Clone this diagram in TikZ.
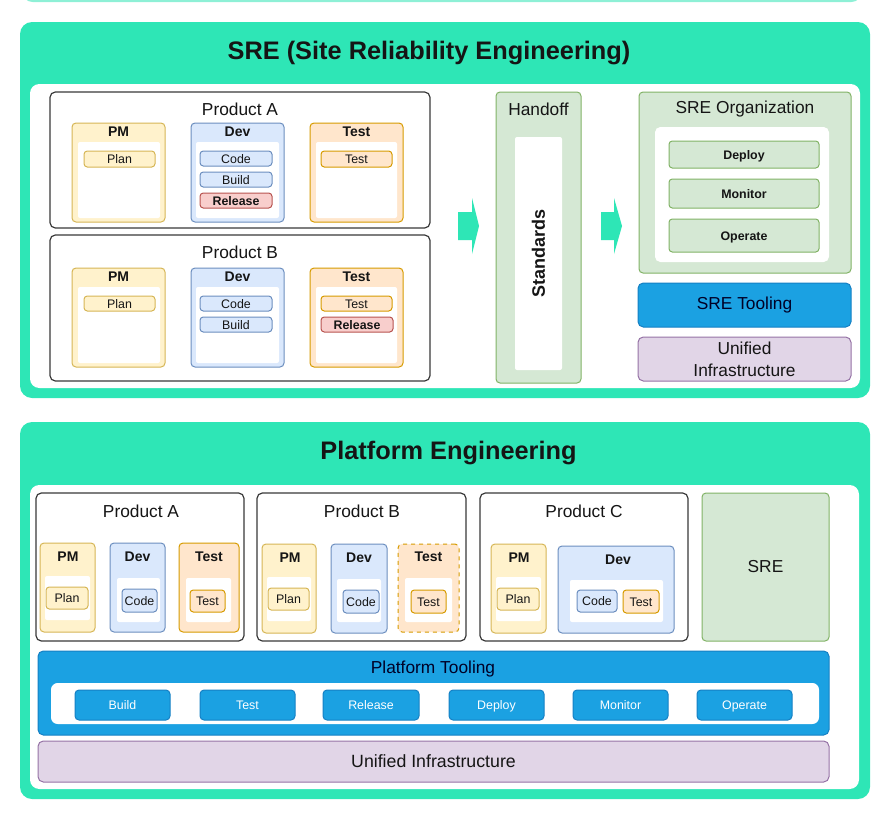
\documentclass[tikz,border=0pt]{standalone}
\usepackage{fontspec}
\setmainfont{Liberation Sans}
\definecolor{teal0}{HTML}{2EE6B6}
\definecolor{tealL}{HTML}{8EF0D6}
\definecolor{ybg}{HTML}{FFF2CC}\definecolor{ybd}{HTML}{D6B656}
\definecolor{bbg}{HTML}{DAE8FC}\definecolor{bbd}{HTML}{6C8EBF}
\definecolor{obg}{HTML}{FFE6CC}\definecolor{obd}{HTML}{D79B00}
\definecolor{rbg}{HTML}{F8CECC}\definecolor{rbd}{HTML}{B85450}
\definecolor{gbg}{HTML}{D5E8D4}\definecolor{gbd}{HTML}{82B366}
\definecolor{pbg}{HTML}{E1D5E7}\definecolor{pbd}{HTML}{9673A6}
\definecolor{blu}{HTML}{1BA1E2}\definecolor{blubd}{HTML}{1580C4}
\definecolor{prodbd}{HTML}{3A3A3A}
\definecolor{ink}{HTML}{151515}
\newcommand\fsz[2]{\fontsize{#1pt}{#2pt}\selectfont}
\newcommand\bx[7]{\node[#1,minimum width={(#5-#3)*0.75pt},minimum height={(#6-#4)*0.75pt}] (#2) at ({(#3+#5)/2},{(#4+#6)/2}) {#7};}
\tikzset{
  base/.style={inner sep=0pt, outer sep=0pt, line width=0.75pt, text=ink},
  outerbox/.style={base, fill=teal0, rounded corners=9pt},
  whitebg/.style={base, fill=white, rounded corners=7pt},
  prod/.style={base, draw=prodbd, fill=white, rounded corners=4pt, line width=0.9pt},
  colY/.style={base, draw=ybd, fill=ybg, rounded corners=3pt},
  colB/.style={base, draw=bbd, fill=bbg, rounded corners=3pt},
  colO/.style={base, draw=obd, fill=obg, rounded corners=3pt},
  colG/.style={base, draw=gbd, fill=gbg, rounded corners=3pt},
  inwhite/.style={base, fill=white, rounded corners=1.5pt},
  chip/.style={base, rounded corners=2.5pt, font=\fsz{9.3}{11}, text height=0.9em, text depth=0.18em},
  chipY/.style={chip, draw=ybd, fill=ybg},
  chipB/.style={chip, draw=bbd, fill=bbg},
  chipO/.style={chip, draw=obd, fill=obg},
  chipR/.style={chip, draw=rbd, fill=rbg, font=\fsz{9.3}{11}\bfseries},
  chipG/.style={chip, draw=gbd, fill=gbg, font=\fsz{9.3}{11}\bfseries},
  btn/.style={base, draw=blubd, fill=blu, rounded corners=3pt, text=white, font=\fsz{9.3}{11}, text height=0.9em, text depth=0.18em},
  bluebar/.style={base, draw=blubd, fill=blu, rounded corners=4pt, font=\fsz{13}{16}, text=black!85!blue},
  purplebar/.style={base, draw=pbd, fill=pbg, rounded corners=4pt, font=\fsz{13}{16.5}, align=center},
  title/.style={inner sep=0pt, text=ink, font=\fsz{19}{22}\bfseries},
  plbl/.style={inner sep=0pt, text=ink, font=\fsz{13}{16}},
  hdr/.style={inner sep=0pt, text=ink, font=\fsz{10.5}{12}\bfseries},
}
\begin{document}
\begin{tikzpicture}[x=0.75pt,y=-0.75pt]
\useasboundingbox (0,0) rectangle (893,818);
\begin{scope}
\clip (0,0) rectangle (893,818);
\fill[tealL, rounded corners=8pt] (22,-30) rectangle (862,2);
\end{scope}

% ===== SRE section =====
\bx{outerbox}{sreO}{20}{22}{870}{398}{}
\node[title] (sreT) at (429,53) {SRE (Site Reliability Engineering)};
\bx{whitebg}{sreW}{30}{84}{860}{388}{}

% Product A
\bx{prod}{tA}{50}{92}{430}{228}{}
\node[plbl] (tAl) at (240,109) {Product A};
\bx{colY}{tApm}{72}{123}{165}{222}{}
\bx{inwhite}{tApmw}{78}{142}{160}{218}{}
\node[hdr] (tApmh) at (118.5,132) {PM};
\bx{chipY}{tAplan}{84}{151}{155}{167}{Plan}
\bx{colB}{tAdev}{191}{123}{284}{222}{}
\bx{inwhite}{tAdevw}{196}{142}{279}{218}{}
\node[hdr] (tAdevh) at (237.5,132) {Dev};
\bx{chipB}{tAcode}{200}{151}{272}{166}{Code}
\bx{chipB}{tAbuild}{200}{172}{272}{187}{Build}
\bx{chipR}{tArel}{200}{193}{272}{208}{Release}
\bx{colO}{tAtest}{310}{123}{403}{222}{}
\bx{inwhite}{tAtestw}{316}{142}{397}{218}{}
\node[hdr] (tAtesth) at (356.5,132) {Test};
\bx{chipO}{tAtestc}{321}{151}{392}{167}{Test}

% Product B
\bx{prod}{tB}{50}{235}{430}{381}{}
\node[plbl] (tBl) at (240,252) {Product B};
\bx{colY}{tBpm}{72}{268}{165}{367}{}
\bx{inwhite}{tBpmw}{78}{287}{160}{363}{}
\node[hdr] (tBpmh) at (118.5,277) {PM};
\bx{chipY}{tBplan}{84}{296}{155}{311}{Plan}
\bx{colB}{tBdev}{191}{268}{284}{367}{}
\bx{inwhite}{tBdevw}{196}{287}{279}{363}{}
\node[hdr] (tBdevh) at (237.5,277) {Dev};
\bx{chipB}{tBcode}{200}{296}{272}{311}{Code}
\bx{chipB}{tBbuild}{200}{317}{272}{332}{Build}
\bx{colO}{tBtest}{310}{268}{403}{367}{}
\bx{inwhite}{tBtestw}{316}{287}{397}{363}{}
\node[hdr] (tBtesth) at (356.5,277) {Test};
\bx{chipO}{tBtestc}{321}{296}{392}{311}{Test}
\bx{chipR}{tBrel}{321}{317}{393}{332}{Release}

% block arrows
\fill[teal0] (458,212) -- (472,212) -- (472,198) -- (479,226) -- (472,254) -- (472,240) -- (458,240) -- cycle;
\fill[teal0] (601,212) -- (614,212) -- (614,198) -- (622,226) -- (614,254) -- (614,240) -- (601,240) -- cycle;

% Handoff
\bx{colG}{hand}{496}{92}{581}{383}{}
\node[plbl] (handl) at (538.5,109) {Handoff};
\bx{inwhite}{handw}{515}{137}{562}{370}{}
\node[inner sep=0pt, text=ink, font=\fsz{13.5}{16}\bfseries, rotate=90] (std) at (538.5,253) {Standards};

% SRE Organization
\bx{colG}{org}{639}{92}{851}{273}{}
\node[plbl] (orgl) at (745,109) {SRE Organization};
\bx{inwhite,rounded corners=4pt}{orgw}{655}{127}{829}{262}{}
\bx{chipG}{orgdep}{669}{141}{819}{168}{Deploy}
\bx{chipG}{orgmon}{669}{179}{819}{208}{Monitor}
\bx{chipG}{orgop}{669}{219}{819}{252}{Operate}
\bx{bluebar}{sretool}{638}{283}{851}{327}{SRE Tooling}
\bx{purplebar}{sreinf}{638}{337}{851}{381}{Unified\\Infrastructure}

% ===== Platform Engineering section =====
\bx{outerbox}{peO}{20}{422}{870}{799}{}
\node[title] (peT) at (448.5,453) {Platform Engineering};
\bx{whitebg}{peW}{30}{485}{859}{789}{}

% Product A
\bx{prod}{pA}{36}{493}{244}{641}{}
\node[plbl] (pAl) at (141,511) {Product A};
\bx{colY}{pApm}{40}{543}{95}{632}{}
\bx{inwhite}{pApmw}{45}{576}{90}{620}{}
\node[hdr] (pApmh) at (68,557) {PM};
\bx{chipY}{pAplan}{46}{587}{88}{609}{Plan}
\bx{colB}{pAdev}{110}{543}{165}{632}{}
\bx{inwhite}{pAdevw}{117}{578}{160}{622}{}
\node[hdr] (pAdevh) at (137.5,557) {Dev};
\bx{chipB}{pAcode}{122}{589}{157}{612}{Code}
\bx{colO}{pAtest}{179}{543}{239}{632}{}
\bx{inwhite}{pAtestw}{186}{578}{231}{622}{}
\node[hdr] (pAtesth) at (209,557) {Test};
\bx{chipO}{pAtestc}{190}{590}{225}{612}{Test}

% Product B
\bx{prod}{pB}{257}{493}{466}{641}{}
\node[plbl] (pBl) at (362,511) {Product B};
\bx{colY}{pBpm}{262}{544}{316}{633}{}
\bx{inwhite}{pBpmw}{267}{577}{311}{621}{}
\node[hdr] (pBpmh) at (290,558) {PM};
\bx{chipY}{pBplan}{268}{588}{309}{610}{Plan}
\bx{colB}{pBdev}{331}{544}{387}{633}{}
\bx{inwhite}{pBdevw}{337}{579}{381}{622}{}
\node[hdr] (pBdevh) at (359,558) {Dev};
\bx{chipB}{pBcode}{343}{590}{379}{613}{Code}
\bx{colO,dashed}{pBtest}{398}{544}{459}{632}{}
\bx{inwhite}{pBtestw}{405}{578}{452}{622}{}
\node[hdr] (pBtesth) at (428.5,557) {Test};
\bx{chipO}{pBtestc}{411}{590}{446}{613}{Test}

% Product C
\bx{prod}{pC}{480}{493}{688}{641}{}
\node[plbl] (pCl) at (584,511) {Product C};
\bx{colY}{pCpm}{491}{544}{546}{633}{}
\bx{inwhite}{pCpmw}{496}{577}{541}{621}{}
\node[hdr] (pCpmh) at (519,558) {PM};
\bx{chipY}{pCplan}{497}{588}{539}{610}{Plan}
\bx{colB}{pCdev}{558}{546}{674}{633}{}
\bx{inwhite}{pCdevw}{570}{580}{663}{622}{}
\node[hdr] (pCdevh) at (618,560) {Dev};
\bx{chipB}{pCcode}{577}{590}{617}{612}{Code}
\bx{chipO}{pCtest}{623}{590}{659}{613}{Test}

% SRE box
\bx{colG,font=\fsz{13}{16}}{pSRE}{702}{493}{829}{641}{SRE}

% Platform Tooling
\bx{bluebar}{ptool}{38}{651}{829}{735}{}
\node[plbl, text=black!85!blue] (ptooll) at (433,669) {Platform Tooling};
\bx{whitebg,rounded corners=5pt}{ptoolw}{51}{683}{819}{724}{}
\bx{btn}{bBuild}{75}{690}{170}{720}{Build}
\bx{btn}{bTest}{200}{690}{295}{720}{Test}
\bx{btn}{bRel}{323}{690}{419}{720}{Release}
\bx{btn}{bDep}{449}{690}{544}{720}{Deploy}
\bx{btn}{bMon}{573}{690}{668}{720}{Monitor}
\bx{btn}{bOp}{697}{690}{792}{720}{Operate}

% Unified Infrastructure
\bx{purplebar,font=\fsz{13.3}{16}}{pinf}{38}{741}{829}{782}{Unified Infrastructure}
\end{tikzpicture}
\end{document}
